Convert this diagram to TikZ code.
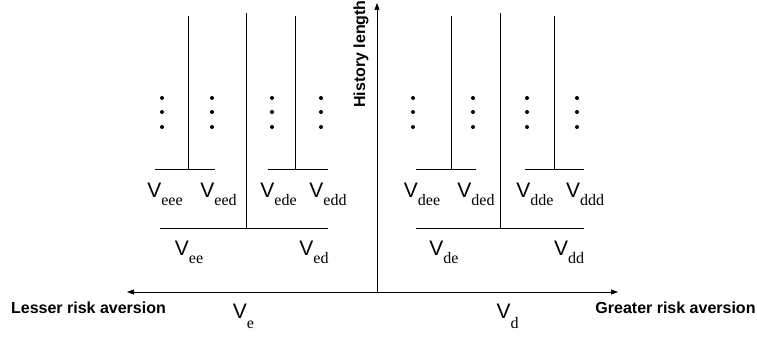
\documentclass[tikz,border=0pt]{standalone}
\usepackage{fontspec}
\setmainfont{Liberation Serif}
\setsansfont{Liberation Sans}
\usetikzlibrary{arrows.meta}
\newcommand{\Vsub}[2][-8pt]{{\fontsize{21}{21}\selectfont\sffamily V}{\fontsize{16}{16}\selectfont\raisebox{#1}{#2}}}

\begin{document}
\begin{tikzpicture}[x=1pt,y=-1pt,line width=0.7pt,>={Triangle[length=7pt,width=5pt]},
    vlab/.style={anchor=base,inner sep=0pt},
    axlab/.style={font=\fontsize{16}{16}\selectfont\sffamily\bfseries,anchor=base,inner sep=0pt}]
    \useasboundingbox (0,0) rectangle (757,337);
    % axes
    \coordinate (O) at (377,292);
    \coordinate (left) at (127,292);
    \coordinate (right) at (618,292);
    \coordinate (up) at (377,3);
    \draw[->] (O) -- (up);
    \draw[<->] (left) -- (right);
    \node[axlab] (lesser) at (88.5,313) {Lesser risk aversion};
    \node[axlab] (greater) at (675.5,313) {Greater risk aversion};
    \node[axlab,rotate=90] (hist) at (365,54) {History length};
    % first split
    \node[vlab] (Ve) at (243.5,318) {\Vsub[-10pt]{e}};
    \node[vlab] (Vd) at (507.5,318) {\Vsub[-10pt]{d}};
    % second and third splits
    \foreach \n/\l/\m/\r/\y/\t in {e/160/246/328/228/13, d/416/500/584/228/13,
        ee/155/188/215/169/16, ed/268/295/328/169/16,
        de/416/451/476/169/16, dd/525/554/584/169/16}{
      \coordinate (\n-l) at (\l,\y);
      \coordinate (\n-r) at (\r,\y);
      \coordinate (\n-m) at (\m,\y);
      \coordinate (\n-top) at (\m,\t);
      \draw (\n-l) -- (\n-r) (\n-m) -- (\n-top);
    }
    \foreach \s/\x in {ee/189, ed/314, de/444, dd/569}
      \node[vlab] (V\s) at (\x,255) {\Vsub{\s}};
    \foreach \s/\x in {eee/165, eed/218.5, ede/278.5, edd/328,
        dee/422, ded/476, dde/535, ddd/585}
      \node[vlab] (V\s) at (\x,197) {\Vsub{\s}};
    % longer histories
    \foreach \x in {162,212,272,321,413,473,527,577}
      \foreach \y in {98,112,127}
        \fill (\x,\y) circle (2pt);
\end{tikzpicture}
\end{document}
